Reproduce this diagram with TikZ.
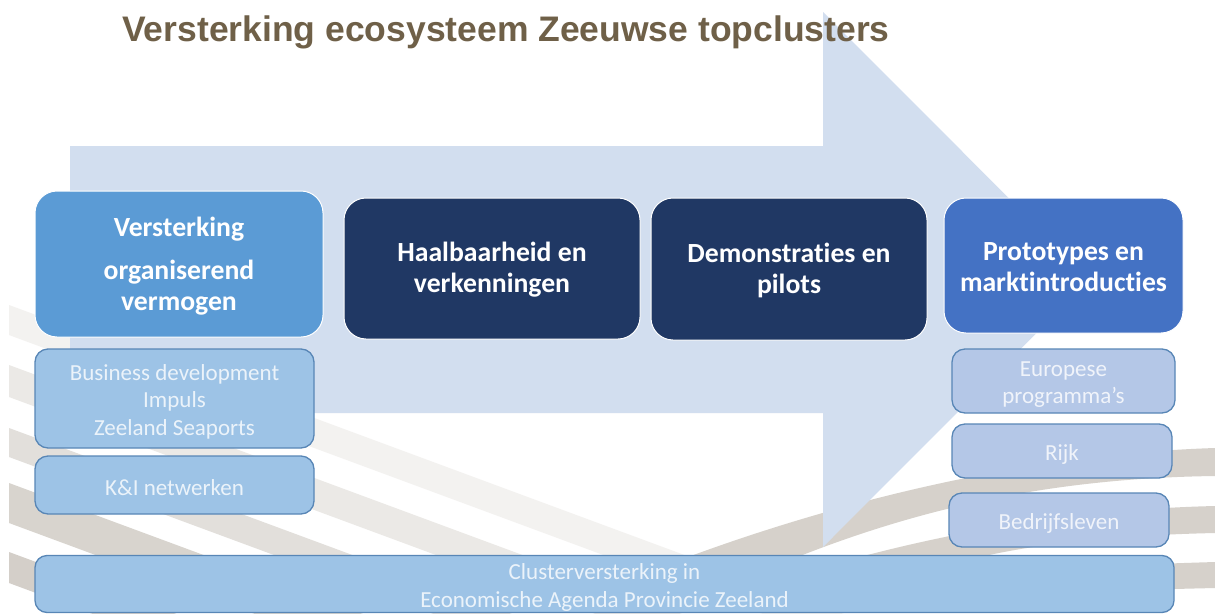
\documentclass[tikz,border=0pt]{standalone}
\usepackage{fontspec}
\setmainfont{Carlito}[Ligatures=NoCommon]
\newfontfamily\titlefont{Liberation Sans}
\definecolor{arrowc}{RGB}{210,222,239}
\definecolor{titlec}{RGB}{111,96,72}
\definecolor{bandA}{RGB}{243,242,240}
\definecolor{bandB}{RGB}{235,233,230}
\definecolor{bandC}{RGB}{226,223,219}
\definecolor{bandD}{RGB}{216,212,206}
\definecolor{bandE}{RGB}{212,207,201}
\definecolor{bandR}{RGB}{214,209,203}
\definecolor{midblue}{RGB}{91,155,213}
\definecolor{navy}{RGB}{32,56,100}
\definecolor{royal}{RGB}{68,114,196}
\definecolor{paleblue}{RGB}{157,195,230}
\definecolor{lavblue}{RGB}{180,199,231}
\definecolor{subborder}{RGB}{88,134,182}
\tikzset{
  mainbox/.style={rectangle, rounded corners=22pt, draw=white, line width=1pt,
    inner sep=0pt},
  maintext/.style={inner sep=0pt, align=center, text=white,
    font=\bfseries\fontsize{27.7}{31}\selectfont},
  subbox/.style={rectangle, rounded corners=13pt, draw=subborder, line width=1.3pt,
    inner sep=0pt},
  subtext/.style={inner sep=0pt, align=center, text=white, text opacity=0.8,
    font=\fontsize{23}{27.5}\selectfont},
}
\begin{document}
\begin{tikzpicture}[x=1pt,y=-1pt]
\useasboundingbox (0,0) rectangle (1215,613);
\fill[white] (0,0) rectangle (1215,613);
\begin{scope}
\clip (0,0) rectangle (1215,613);
% background bands (left, descending)
\fill[bandA] (9,305) -- (860,620) -- (860,650) -- (9,335) -- cycle;
\fill[bandB] (9,365) -- (700,620.7) -- (700,652.7) -- (9,397) -- cycle;
\fill[bandC] (9,428) -- (520,617) -- (520,646) -- (9,457) -- cycle;
\fill[bandD] (9,483) -- (400,627.7) -- (400,667.7) -- (9,523) -- cycle;
\fill[bandE] (9,552) -- (200,622.7) -- (200,653.7) -- (9,583) -- cycle;
% background bands (right, rising)
\fill[bandR] (680,560) .. controls (800,515) and (1000,455) .. (1215,448)
  -- (1215,476) .. controls (1060,478) and (930,505) .. (800,556) -- cycle;
\fill[bandR] (830,565) .. controls (920,540) and (1050,510) .. (1215,506)
  -- (1215,533) .. controls (1080,536) and (1000,550) .. (950,565) -- cycle;
\fill[bandR] (1060,575) .. controls (1120,565) .. (1215,562)
  -- (1215,588) .. controls (1130,590) .. (1060,600) -- cycle;
\end{scope}
% big arrow
\fill[arrowc] (70,146) -- (823,146) -- (823,12) -- (1090,279.5) -- (823,547)
  -- (823,413) -- (70,413) -- cycle;
% title
\node[anchor=base west, inner sep=0pt, text=titlec,
  font=\titlefont\bfseries\fontsize{35.5}{40}\selectfont] (title) at (122,41)
  {Versterking ecosysteem Zeeuwse topclusters};
% main stage boxes
\node[mainbox, fill=midblue, minimum width=288pt, minimum height=146pt] (b1) at (179,264) {};
\node[maintext] (t1) at ([yshift=-2.5pt]b1.center) {Versterking\\[12pt]organiserend\\vermogen};
\node[mainbox, fill=navy, minimum width=296pt, minimum height=141pt] (b2) at (492,268.5) {};
\node[maintext] (t2) at ([yshift=-1.5pt]b2.center) {Haalbaarheid en\\verkenningen};
\node[mainbox, fill=navy, minimum width=276pt, minimum height=142pt] (b3) at (789,269) {};
\node[maintext] (t3) at ([yshift=-1.5pt]b3.center) {Demonstraties en\\pilots};
\node[mainbox, fill=royal, minimum width=239pt, minimum height=135pt] (b4) at (1063.5,265.5) {};
\node[maintext] (t4) at ([yshift=-1.5pt]b4.center) {Prototypes en\\marktintroducties};
% left sub boxes
\node[subbox, fill=paleblue, minimum width=279pt, minimum height=99pt] (s1) at (174.5,398.5) {};
\node[subtext] (ts1) at ([yshift=-3pt]s1.center) {Business development\\Impuls\\Zeeland Seaports};
\node[subbox, fill=paleblue, minimum width=279pt, minimum height=58pt] (s2) at (174.5,485) {};
\node[subtext] (ts2) at ([yshift=-2.5pt]s2.center) {K\&I netwerken};
% right sub boxes
\node[subbox, fill=lavblue, minimum width=223pt, minimum height=64pt] (e1) at (1063.5,381) {};
\node[subtext] (te1) at ([yshift=-3.5pt]e1.center) {Europese\\programma’s};
\node[subbox, fill=lavblue, minimum width=220pt, minimum height=54pt] (e2) at (1062,451) {};
\node[subtext] (te2) at ([yshift=-3pt]e2.center) {Rijk};
\node[subbox, fill=lavblue, minimum width=220pt, minimum height=54pt] (e3) at (1059,520) {};
\node[subtext] (te3) at ([yshift=-3pt]e3.center) {Bedrijfsleven};
% bottom bar
\node[subbox, fill=paleblue, rounded corners=12pt, minimum width=1139pt, minimum height=57pt] (bottom) at (604.5,584) {};
\node[subtext] (tb) at ([yshift=-3.5pt]bottom.center) {Clusterversterking in\\Economische Agenda Provincie Zeeland};
\end{tikzpicture}
\end{document}
